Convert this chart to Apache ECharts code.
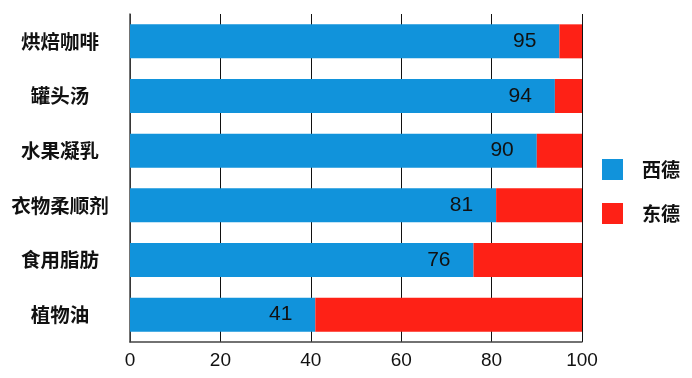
<!DOCTYPE html>
<html>
<head>
<meta charset="utf-8">
<script src="https://cdn.jsdelivr.net/npm/echarts@6/dist/echarts.min.js"></script>
<style>
  html, body { margin: 0; padding: 0; background: #fff; }
  #chart { width: 692px; height: 378px; }
</style>
</head>
<body>
<div id="chart"></div>
<script>
// 产品类别（自上而下）
var categories = ['烘焙咖啡', '罐头汤', '水果凝乳', '衣物柔顺剂', '食用脂肪', '植物油'];
// 西德份额 / 东德份额（百分比）
var westValues = [95, 94, 90, 81, 76, 41];
var eastValues = [5, 6, 10, 19, 24, 59];
var seriesNames = ['西德', '东德'];

var cjkFont = '"Noto Sans CJK SC", sans-serif';
var numFont = '"Liberation Sans", Arial, sans-serif';

var option = {
  animation: false,
  backgroundColor: '#fff',
  grid: { left: 130, right: 110, top: 14, height: 328 },
  legend: {
    data: seriesNames,
    orient: 'vertical',
    left: 602,
    top: 159,
    padding: 0,
    itemWidth: 21,
    itemHeight: 21,
    itemGap: 23,
    icon: 'rect',
    textStyle: { fontFamily: cjkFont, fontSize: 19, fontWeight: 600, color: '#111', padding: [0, 0, 0, 14] }
  },
  xAxis: {
    type: 'value',
    min: 0,
    max: 100,
    interval: 20,
    axisLine: { show: true, lineStyle: { color: '#444', width: 1.5 } },
    axisTick: { show: false },
    axisLabel: { margin: 9, fontFamily: numFont, fontSize: 19, color: '#111' },
    splitLine: { show: true, lineStyle: { color: '#111', width: 1 } }
  },
  yAxis: {
    type: 'category',
    data: categories,
    inverse: true,
    axisLine: { show: true, lineStyle: { color: '#444', width: 1.5 } },
    axisTick: { show: false },
    axisLabel: { margin: 70, align: 'center', fontFamily: cjkFont, fontSize: 19.5, fontWeight: 600, color: '#111' }
  },
  series: [
    {
      name: seriesNames[0],
      type: 'bar',
      stack: 'total',
      barWidth: 34,
      data: westValues,
      itemStyle: { color: '#1193DB' },
      label: {
        show: true,
        position: 'insideRight',
        distance: 23,
        fontFamily: numFont,
        fontSize: 21,
        color: '#111'
      }
    },
    {
      name: seriesNames[1],
      type: 'bar',
      stack: 'total',
      barWidth: 34,
      data: eastValues,
      itemStyle: { color: '#FE2116' }
    }
  ]
};

echarts.init(document.getElementById('chart')).setOption(option);
</script>
</body>
</html>
